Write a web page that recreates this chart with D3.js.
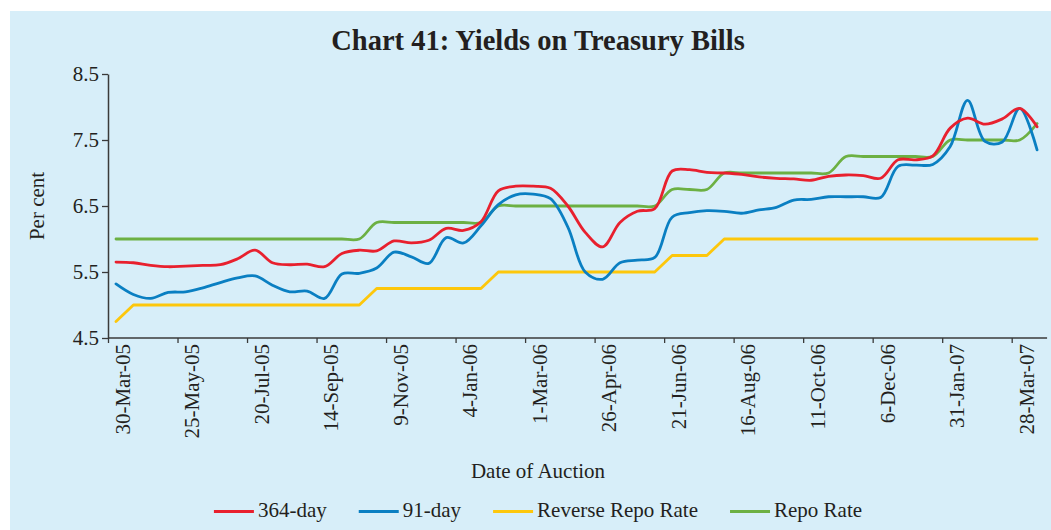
<!DOCTYPE html>
<html>
<head>
<meta charset="utf-8">
<script src="https://cdn.jsdelivr.net/npm/d3@7"></script>
<style>
	body { margin: 0; background: #ffffff; }
	text { font-family: "Liberation Serif", "Times New Roman", serif; fill: #231f20; }
</style>
</head>
<body>
<div id="graph"></div>
<script>
// fortnightly auction dates starting 30-Mar-05
var firstAuction = "30-Mar-05";
var numAuctions = 54;

var tickLabels = ["30-Mar-05","25-May-05","20-Jul-05","14-Sep-05","9-Nov-05","4-Jan-06","1-Mar-06",
	"26-Apr-06","21-Jun-06","16-Aug-06","11-Oct-06","6-Dec-06","31-Jan-07","28-Mar-07"];

var yTicks = [4.5, 5.5, 6.5, 7.5, 8.5];

var yield364 = [5.65,5.64,5.60,5.58,5.59,5.60,5.61,5.70,5.83,5.64,5.61,5.62,5.58,5.78,5.83,5.82,
	5.97,5.94,5.98,6.16,6.13,6.26,6.73,6.80,6.80,6.77,6.50,6.10,5.88,6.25,6.42,6.46,7.03,7.05,
	7.01,7.00,6.98,6.94,6.92,6.91,6.89,6.95,6.97,6.96,6.92,7.20,7.20,7.26,7.68,7.83,7.74,7.82,7.98,7.70];

var yield91 = [5.32,5.16,5.10,5.19,5.20,5.26,5.34,5.41,5.44,5.30,5.20,5.21,5.10,5.47,5.48,5.56,
	5.80,5.73,5.63,6.02,5.94,6.20,6.52,6.67,6.68,6.61,6.18,5.50,5.39,5.64,5.68,5.72,6.33,6.40,
	6.43,6.42,6.39,6.44,6.48,6.59,6.60,6.64,6.64,6.64,6.63,7.10,7.12,7.13,7.40,8.10,7.48,7.47,7.98,7.35];

var reverseRepo = [4.75,5,5,5,5,5,5,5,5,5,5,5,5,5,5,5.25,5.25,5.25,5.25,5.25,5.25,5.25,5.5,5.5,
	5.5,5.5,5.5,5.5,5.5,5.5,5.5,5.5,5.75,5.75,5.75,6,6,6,6,6,6,6,6,6,6,6,6,6,6,6,6,6,6,6];

var repo = [6,6,6,6,6,6,6,6,6,6,6,6,6,6,6,6.25,6.25,6.25,6.25,6.25,6.25,6.25,6.5,6.5,
	6.5,6.5,6.5,6.5,6.5,6.5,6.5,6.5,6.75,6.75,6.75,7,7,7,7,7,7,7,7.25,7.25,7.25,7.25,7.25,7.25,
	7.5,7.5,7.5,7.5,7.5,7.75];

var seriesNames = ["364-day", "91-day", "Reverse Repo Rate", "Repo Rate"];
var seriesColors = ["#e8202e", "#0a7fc2", "#fdc70c", "#6cb043"];

var width = 1051, height = 530;
var padding = {left: 108, right: 4, top: 74, bottom: 192};

var parseDate = d3.timeParse("%d-%b-%y");
var timeFormat = d3.timeFormat("%-d-%b-%y");

var startDate = parseDate(firstAuction);
var auctionDates = d3.range(numAuctions).map(i => d3.timeDay.offset(startDate, 14*i));
var tickDates = tickLabels.map(parseDate);

var seriesData = [yield364, yield91, reverseRepo, repo].map(function(vals, i) {
	return {
		name: seriesNames[i],
		color: seriesColors[i],
		smooth: i != 2,
		data: vals.map((v, j) => ({time: auctionDates[j], value: v}))
	};
});

graph = d3.select("div#graph")
	.append("svg")
	.attr("width", width)
	.attr("height", height);

graph.append("rect")
	.attr("x", 10)
	.attr("y", 11)
	.attr("width", width - 10)
	.attr("height", height - 11)
	.attr("fill", "#d7eef9");

graph.append("text")
	.attr("x", 538)
	.attr("y", 50)
	.style("text-anchor", "middle")
	.style("font-size", "28.5px")
	.style("font-weight", "bold")
	.text("Chart 41: Yields on Treasury Bills");

// category offset: ticks sit between auctions, points in the middle
var catOffset = 8;

xScale = d3.scaleTime()
	.domain([tickDates[0], tickDates[tickDates.length-1]])
	.range([padding.left + catOffset, 1011.7 + catOffset]);

yScale = d3.scaleLinear()
	.domain([4.5, 8.5])
	.range([height - padding.bottom, padding.top]);

xAxis = d3.axisBottom()
	.scale(xScale)
	.tickValues(tickDates)
	.tickSize(5)
	.tickFormat(timeFormat);

yAxis = d3.axisLeft()
	.scale(yScale)
	.tickValues(yTicks)
	.tickSize(6)
	.tickSizeOuter(0)
	.tickFormat(d3.format(".1f"));

var xg = graph.append("g")
	.attr("class", "x axis")
	.attr("transform", `translate(0, ${yScale(4.5)})`)
	.call(xAxis);
xg.select(".domain").remove();
xg.append("line")
	.attr("x1", xScale(tickDates[0]) - catOffset)
	.attr("x2", xScale(auctionDates[numAuctions-1]) + 10)
	.attr("stroke", "#3a3a3a")
	.attr("stroke-width", 1.3);
xg.selectAll(".tick line")
	.attr("stroke", "#3a3a3a")
	.attr("stroke-width", 1.3)
	.attr("transform", `translate(${-catOffset},0)`);
xg.selectAll(".tick text")
	.attr("x", 0)
	.attr("y", 0)
	.attr("dy", "0.35em")
	.attr("transform", "translate(6,6) rotate(-90)")
	.style("text-anchor", "end")
	.style("font-size", "21px")
	.style("font-family", "Liberation Serif")
	.attr("fill", "#231f20");

var yg = graph.append("g")
	.attr("class", "y axis")
	.attr("transform", `translate(${padding.left}, 0)`)
	.call(yAxis);
yg.select(".domain").attr("stroke", "#3a3a3a").attr("stroke-width", 1.5);
yg.selectAll(".tick line").attr("stroke", "#3a3a3a").attr("stroke-width", 1.3);
yg.selectAll(".tick text")
	.attr("x", -9)
	.style("font-size", "21px")
	.style("font-family", "Liberation Serif")
	.attr("fill", "#231f20");

graph.append("text")
	.attr("transform", `translate(37, ${(yScale(4.5)+yScale(8.5))/2}) rotate(-90)`)
	.attr("dy", "0.35em")
	.style("text-anchor", "middle")
	.style("font-size", "21px")
	.text("Per cent");

graph.append("text")
	.attr("x", 538)
	.attr("y", 478)
	.style("text-anchor", "middle")
	.style("font-size", "21px")
	.text("Date of Auction");

var smoothLine = d3.line()
	.curve(d3.curveCatmullRom.alpha(0.5))
	.x(d => xScale(d.time))
	.y(d => yScale(d.value));

var straightLine = d3.line()
	.x(d => xScale(d.time))
	.y(d => yScale(d.value));

// draw reverse repo, repo, 91-day, then 364-day on top
[2, 3, 1, 0].forEach(function(i) {
	var s = seriesData[i];
	graph.append("path").datum(s.data)
		.attr("class", "line_class")
		.attr("fill", "none")
		.attr("stroke", s.color)
		.attr("stroke-linejoin", "round")
		.attr("stroke-linecap", "round")
		.attr("stroke-width", 2.8)
		.attr("d", s.smooth ? smoothLine : straightLine);
});

legend = graph.append("g").attr("class", "legend");
var lx = 0;
seriesData.forEach(function(s) {
	var item = legend.append("g").attr("transform", `translate(${lx},0)`);
	item.append("line")
		.attr("x1", 0).attr("x2", 40)
		.attr("y1", 0).attr("y2", 0)
		.attr("stroke", s.color)
		.attr("stroke-width", 3);
	var t = item.append("text")
		.attr("x", 44)
		.attr("y", 5.5)
		.style("font-size", "21px")
		.text(s.name);
	lx += 44 + t.node().getComputedTextLength() + 32;
});
var lw = legend.node().getBBox().width;
legend.attr("transform", `translate(${538 - lw/2}, 511.5)`);
</script>
</body>
</html>
